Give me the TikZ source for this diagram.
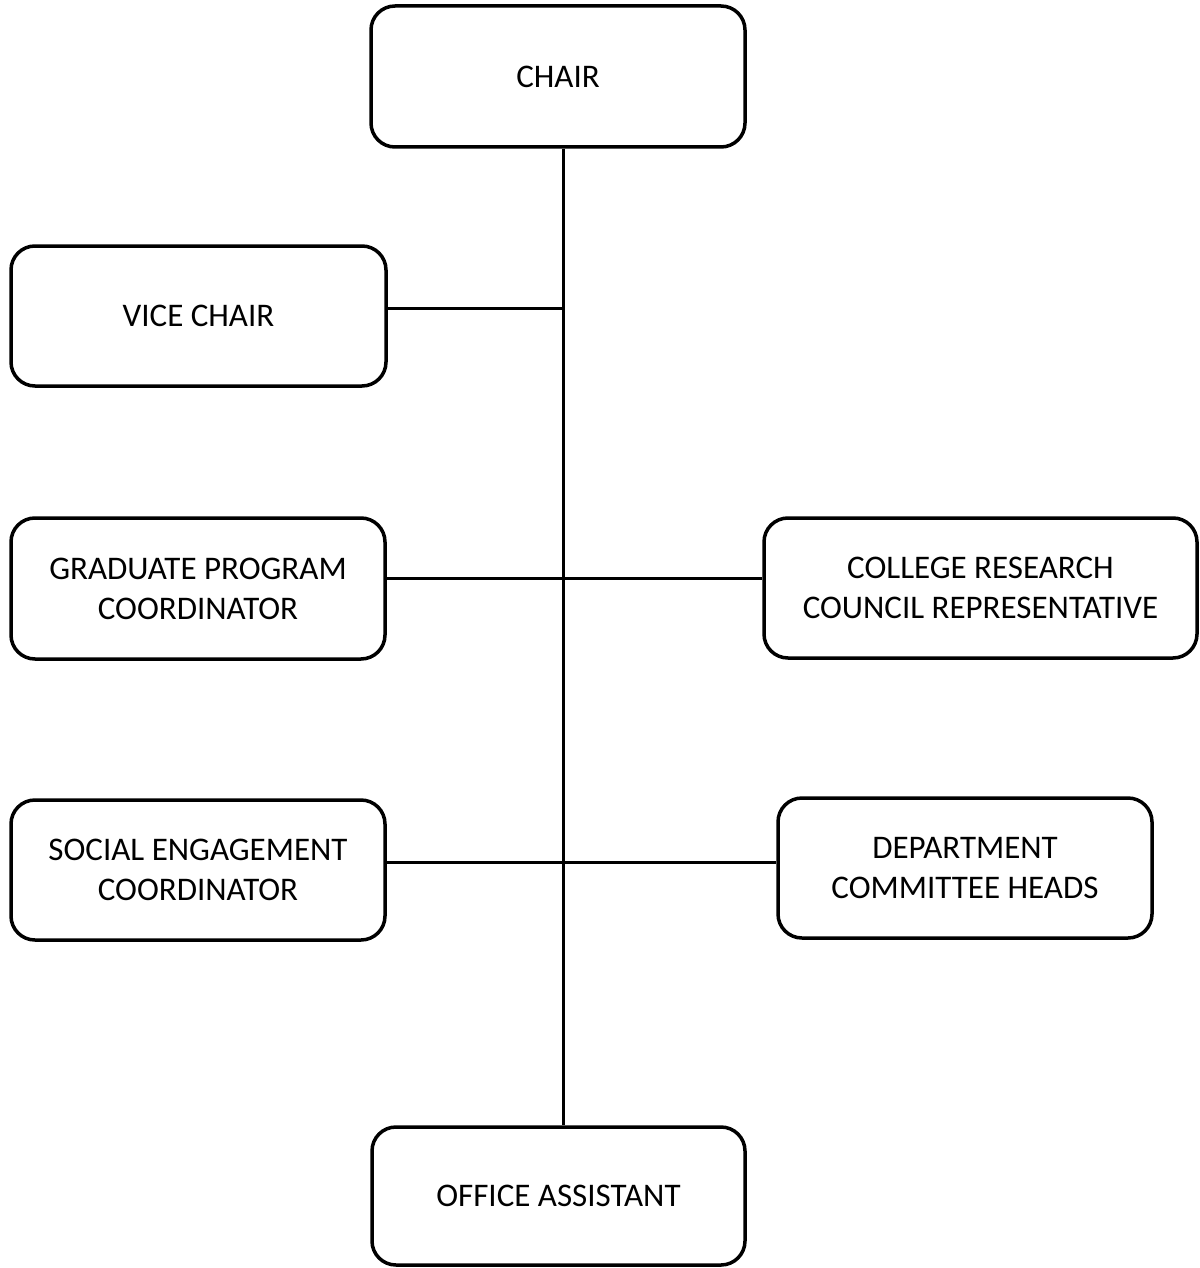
\documentclass[tikz,border=0pt]{standalone}
\usepackage{fontspec}
\setmainfont{Carlito}
\begin{document}
\begin{tikzpicture}[x=1pt,y=-1pt,
  box/.style={draw=black, line width=3.5pt, rounded corners=24pt, fill=white,
    inner sep=0pt, align=center, font=\fontsize{33}{40}\selectfont,
    text=black},
  conn/.style={draw=black, line width=3pt}]
\useasboundingbox (0,0) rectangle (1199,1268);
\node[box, minimum width=374pt, minimum height=141pt] (chair) at (558,76.5) {CHAIR};
\node[box, minimum width=375pt, minimum height=140pt] (vice) at (198.5,316) {VICE CHAIR};
\node[box, minimum width=374pt, minimum height=141pt] (grad) at (198,588.5) {GRADUATE PROGRAM\\COORDINATOR};
\node[box, minimum width=433pt, minimum height=140pt] (college) at (980.5,588) {COLLEGE RESEARCH\\COUNCIL REPRESENTATIVE};
\node[box, minimum width=374pt, minimum height=140pt] (social) at (198,870) {SOCIAL ENGAGEMENT\\COORDINATOR};
\node[box, minimum width=374pt, minimum height=140pt] (dept) at (965,868) {DEPARTMENT\\COMMITTEE HEADS};
\node[box, minimum width=373pt, minimum height=138pt] (office) at (558.5,1196) {OFFICE ASSISTANT};
\coordinate (trunk) at (563,0);
\coordinate (j1) at (563,308);
\coordinate (j2) at (563,578);
\coordinate (j3) at (563,862);
\draw[conn] (chair.south -| trunk) -- (office.north -| trunk);
\draw[conn] (vice.east |- j1) -- (j1);
\draw[conn] (grad.east |- j2) -- (college.west |- j2);
\draw[conn] (social.east |- j3) -- (dept.west |- j3);
\end{tikzpicture}
\end{document}
